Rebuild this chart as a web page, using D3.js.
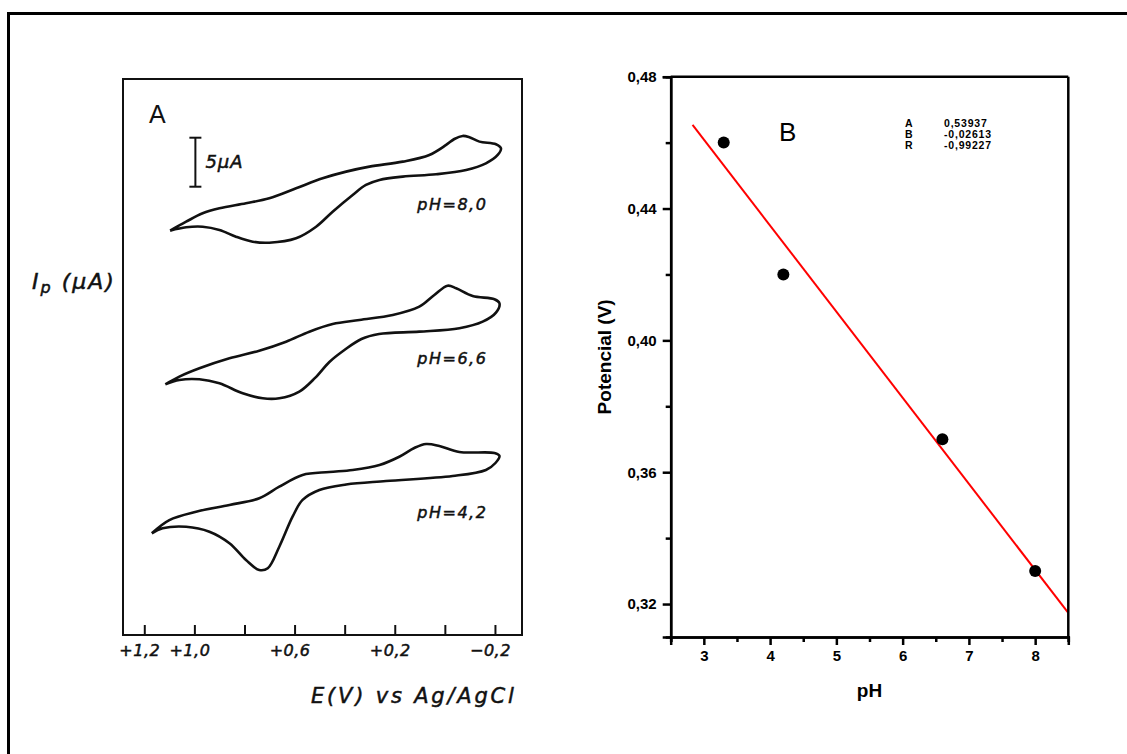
<!DOCTYPE html>
<html>
<head>
<meta charset="utf-8">
<script src="https://cdn.jsdelivr.net/npm/d3@7"></script>
<style>
  html, body { margin: 0; padding: 0; background: #fff; }
  svg { display: block; }
  .hand { font-family: "DejaVu Sans", sans-serif; font-style: italic; stroke: #111; stroke-width: 0.5px; }
  .arialb { font-family: "Liberation Sans", Arial, sans-serif; font-weight: bold; }
</style>
</head>
<body>
<svg id="chart" width="1127" height="754"></svg>
<script>
// ---------------- Panel A data (cyclic voltammograms) ----------------
// potential E (V vs Ag/AgCl), current I (µA, arbitrary offset per curve)
const cvLabels = ["pH=8,0", "pH=6,6", "pH=4,2"];
const cvLabelPos = [[0.11, 43.4], [0.11, 27.6], [0.11, 11.9]]; // [E, I] anchor of label
const cv80 = [
  [1.097,41.26],[1.033,42.17],[0.967,43.03],[0.900,43.54],[0.794,44.05],[0.701,44.56],
  [0.594,45.58],[0.488,46.60],[0.394,47.28],[0.301,47.79],[0.168,48.30],[0.062,48.98],
  [-0.005,50.00],[-0.038,50.61],[-0.071,50.92],[-0.098,50.79],[-0.138,50.34],[-0.204,50.07],
  [-0.224,49.66],[-0.211,48.98],[-0.164,48.13],[-0.085,47.45],[0.035,47.01],[0.168,46.77],
  [0.261,46.43],[0.315,45.92],[0.368,44.90],[0.448,43.19],[0.514,41.66],[0.594,40.48],
  [0.701,40.03],[0.767,40.13],[0.834,40.64],[0.900,41.33],[0.967,41.66],[1.033,41.60],
  [1.097,41.26]
];
const cv66 = [
  [1.116,25.58],[1.060,26.36],[0.980,27.21],[0.860,28.23],[0.741,29.01],[0.634,29.93],
  [0.541,30.95],[0.448,31.73],[0.341,32.14],[0.208,32.65],[0.102,33.50],[0.042,34.69],
  [-0.011,35.64],[-0.045,35.38],[-0.111,34.59],[-0.198,34.26],[-0.218,33.85],[-0.204,32.89],
  [-0.151,31.97],[-0.058,31.30],[0.102,30.95],[0.263,30.71],[0.333,30.20],[0.401,29.08],
  [0.461,27.86],[0.517,26.26],[0.581,24.83],[0.661,24.15],[0.727,24.15],[0.807,24.66],
  [0.900,25.68],[0.980,26.09],[1.060,26.02],[1.116,25.58]
];
const cv42 = [
  [1.170,10.38],[1.100,11.73],[0.993,12.58],[0.860,13.27],[0.741,13.95],[0.661,15.13],
  [0.568,16.33],[0.461,16.63],[0.368,16.84],[0.261,17.35],[0.182,18.19],[0.122,19.08],
  [0.075,19.49],[0.022,19.29],[-0.058,18.67],[-0.198,18.57],[-0.218,18.27],[-0.202,17.55],
  [-0.164,16.84],[-0.031,16.22],[0.235,15.71],[0.394,15.36],[0.501,14.80],[0.568,13.78],
  [0.608,12.07],[0.661,9.01],[0.707,6.81],[0.741,6.63],[0.794,7.65],[0.860,9.36],
  [0.940,10.54],[1.033,11.05],[1.127,10.89],[1.170,10.38]
];
const cvCurves = [cv80, cv66, cv42];
const aTicks = [1.2, 1.0, 0.8, 0.6, 0.4, 0.2, 0.0, -0.2];
const aTickLabels = ["+1,2", "+1,0", "", "+0,6", "", "+0,2", "", "\u22120,2"];
const scaleBar = { E: 0.996, I0: 45.74, len: 5, label: "5\u03BCA" };

// ---------------- Panel B data ----------------
const pHValues = [3.3, 4.2, 6.6, 8.0];
const potValues = [0.46, 0.42, 0.37, 0.33];
const fitLine = [[2.83, 0.4654], [8.5, 0.3173]];
const bXTicks = [3, 4, 5, 6, 7, 8];
const bXMinor = [2.5, 3.5, 4.5, 5.5, 6.5, 7.5, 8.5];
const bYTicks = [0.48, 0.44, 0.40, 0.36, 0.32];
const bYMinor = [0.46, 0.42, 0.38, 0.34];
const fitParamNames = ["A", "B", "R"];
const fitParamValues = ["0,53937", "-0,02613", "-0,99227"];

// ---------------- Drawing ----------------
const svg = d3.select("#chart");
svg.append("rect").attr("width", 1127).attr("height", 754).attr("fill", "#fff");

// outer frame (extends past the canvas at right/bottom)
svg.append("rect").attr("x", 8.5).attr("y", 13.5).attr("width", 1200).attr("height", 800)
  .attr("fill", "none").attr("stroke", "#000").attr("stroke-width", 3);

// ===== Panel A =====
const aL = 123, aR = 522, aT = 79, aB = 635;
const xA = d3.scaleLinear().domain([1.285, -0.308]).range([aL, aR]);
const yA = d3.scaleLinear().domain([0, 56.73]).range([aB, aT]);
const gA = svg.append("g");

gA.append("rect").attr("x", aL).attr("y", aT).attr("width", aR - aL).attr("height", aB - aT)
  .attr("fill", "none").attr("stroke", "#111").attr("stroke-width", 2);

const axA = gA.append("g").attr("transform", `translate(0,${aB})`)
  .call(d3.axisBottom(xA).tickValues(aTicks).tickSize(-10).tickPadding(10)
    .tickFormat((d, i) => aTickLabels[i]));
axA.select(".domain").remove();
axA.selectAll(".tick line").attr("stroke", "#111").attr("stroke-width", 2);
axA.selectAll(".tick text").attr("class", "hand").attr("font-size", 16).attr("fill", "#111")
  .attr("dx", -5).attr("letter-spacing", 0.5);

const lineA = d3.line().x(d => xA(d[0])).y(d => yA(d[1])).curve(d3.curveCatmullRom.alpha(0.5));
gA.selectAll("path.cv").data(cvCurves).join("path").attr("class", "cv")
  .attr("d", lineA).attr("fill", "none").attr("stroke", "#111").attr("stroke-width", 2.6)
  .attr("stroke-linejoin", "round");

gA.selectAll("text.phl").data(cvLabels).join("text").attr("class", "hand phl")
  .attr("x", (d, i) => xA(cvLabelPos[i][0])).attr("y", (d, i) => yA(cvLabelPos[i][1]))
  .attr("font-size", 16).attr("letter-spacing", 1.5).attr("fill", "#111").text(d => d);

// scale bar
const sbx = xA(scaleBar.E), sby0 = yA(scaleBar.I0), sby1 = yA(scaleBar.I0 + scaleBar.len);
gA.append("line").attr("x1", sbx).attr("x2", sbx).attr("y1", sby0).attr("y2", sby1)
  .attr("stroke", "#111").attr("stroke-width", 2);
[sby0, sby1].forEach(yy => gA.append("line").attr("x1", sbx - 6).attr("x2", sbx + 6)
  .attr("y1", yy).attr("y2", yy).attr("stroke", "#111").attr("stroke-width", 2));
gA.append("text").attr("class", "hand").attr("x", sbx + 10).attr("y", (sby0 + sby1) / 2 + 6)
  .attr("font-size", 18).attr("letter-spacing", 1).attr("fill", "#111").text(scaleBar.label);

gA.append("text").attr("x", 149).attr("y", 123).attr("font-family", "Liberation Sans, Arial, sans-serif")
  .attr("font-size", 25).attr("fill", "#111").text("A");

// y label Ip (µA)
const yl = svg.append("text").attr("class", "hand").attr("x", 32).attr("y", 289)
  .attr("font-size", 22).attr("fill", "#111").attr("letter-spacing", 2);
yl.append("tspan").text("I");
yl.append("tspan").attr("font-size", 16).attr("dy", 4).text("p");
yl.append("tspan").attr("dy", -4).text(" (\u03BCA)");

// x label
svg.append("text").attr("class", "hand").attr("x", 311).attr("y", 703)
  .attr("font-size", 21).attr("letter-spacing", 2.8).attr("fill", "#111").text("E(V) vs Ag/AgCl");

// ===== Panel B =====
const bL = 670.7, bR = 1068.3, bT = 76.7, bB = 637;
const xB = d3.scaleLinear().domain([2.5, 8.5]).range([bL, bR]);
const yB = d3.scaleLinear().domain([0.31, 0.48]).range([bB, bT]);
const gB = svg.append("g");

// fit line
gB.append("path").datum(fitLine)
  .attr("d", d3.line().x(d => xB(d[0])).y(d => yB(d[1])))
  .attr("stroke", "#ff0000").attr("stroke-width", 2).attr("fill", "none");

// points
gB.selectAll("circle").data(pHValues).join("circle")
  .attr("cx", d => xB(d)).attr("cy", (d, i) => yB(potValues[i])).attr("r", 6).attr("fill", "#000");

// frame lines top/right
gB.append("line").attr("x1", bL).attr("x2", bR).attr("y1", bT).attr("y2", bT)
  .attr("stroke", "#000").attr("stroke-width", 2.5);
gB.append("line").attr("x1", bR).attr("x2", bR).attr("y1", bT).attr("y2", bB)
  .attr("stroke", "#000").attr("stroke-width", 2.5);

function styleAxis(g) {
  g.select(".domain").attr("stroke", "#000").attr("stroke-width", 2.5);
  g.selectAll(".tick line").attr("stroke", "#000").attr("stroke-width", 2.5);
  g.selectAll(".tick text").attr("class", "arialb").attr("font-size", 15).attr("fill", "#000");
}
const fmtB = d => d.toFixed(2).replace(".", ",");
const yAx = gB.append("g").attr("transform", `translate(${bL},0)`)
  .call(d3.axisLeft(yB).tickValues(bYTicks).tickSize(8).tickPadding(6).tickFormat(fmtB));
styleAxis(yAx);
const yAxm = gB.append("g").attr("transform", `translate(${bL},0)`)
  .call(d3.axisLeft(yB).tickValues(bYMinor).tickSize(5).tickFormat(""));
styleAxis(yAxm);
const xAx = gB.append("g").attr("transform", `translate(0,${bB})`)
  .call(d3.axisBottom(xB).tickValues(bXTicks).tickSize(8).tickPadding(5).tickFormat(d3.format("d")));
styleAxis(xAx);
const xAxm = gB.append("g").attr("transform", `translate(0,${bB})`)
  .call(d3.axisBottom(xB).tickValues(bXMinor).tickSize(5).tickFormat(""));
styleAxis(xAxm);

// axis titles
svg.append("text").attr("class", "arialb").attr("font-size", 19)
  .attr("transform", `translate(611,${(bT + bB) / 2}) rotate(-90)`).attr("text-anchor", "middle")
  .text("Potencial (V)");
svg.append("text").attr("class", "arialb").attr("font-size", 19).attr("x", (bL + bR) / 2).attr("y", 697)
  .attr("text-anchor", "middle").text("pH");

// panel letter B
svg.append("text").attr("x", 779).attr("y", 141).attr("font-family", "Liberation Sans, Arial, sans-serif")
  .attr("font-size", 26).text("B");

// fit parameters
const fp = svg.append("g").attr("class", "arialb").attr("font-size", 10.5);
fp.selectAll("text.n").data(fitParamNames).join("text").attr("class", "n")
  .attr("x", 905).attr("y", (d, i) => 126.8 + i * 11.2).text(d => d);
fp.selectAll("text.v").data(fitParamValues).join("text").attr("class", "v")
  .attr("x", 944).attr("y", (d, i) => 126.8 + i * 11.2).attr("letter-spacing", 0.8).text(d => d);
</script>
</body>
</html>
